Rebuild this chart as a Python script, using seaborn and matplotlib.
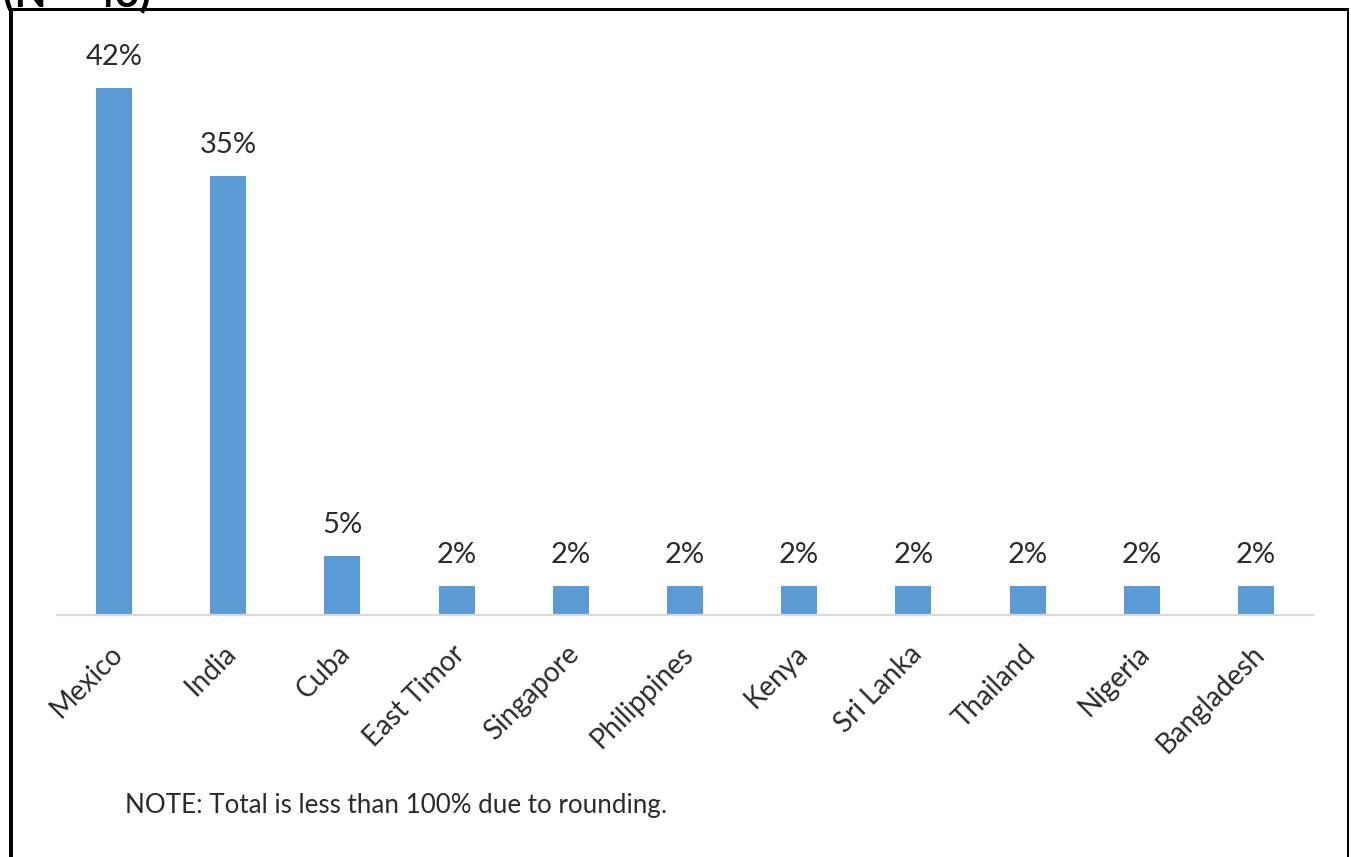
import matplotlib
matplotlib.use("Agg")
import matplotlib.pyplot as plt
import matplotlib.transforms as mtransforms
from matplotlib.patches import Rectangle
import seaborn as sns
import pandas as pd

countries = ["Mexico", "India", "Cuba", "East Timor", "Singapore", "Philippines",
             "Kenya", "Sri Lanka", "Thailand", "Nigeria", "Bangladesh"]
shares = [41.9, 34.9, 4.7, 2.3, 2.3, 2.3, 2.3, 2.3, 2.3, 2.3, 2.3]
value_labels = ["42%", "35%", "5%", "2%", "2%", "2%", "2%", "2%", "2%", "2%", "2%"]
note_text = "NOTE: Total is less than 100% due to rounding."
title_fragment = "(N = 43)"

sns.set_theme(style="white")
plt.rcParams["font.family"] = ["Lato", "DejaVu Sans"]

W, H = 1351, 857
fig = plt.figure(figsize=(W / 100, H / 100), dpi=100)
fig.patch.set_facecolor("white")

def fx(px):
    return px / W

def fy(py):
    return 1 - py / H

ax = fig.add_axes([fx(57), fy(615), fx(1313) - fx(57), fy(30) - fy(615)])
df = pd.DataFrame({"country": countries, "share": shares})
sns.barplot(data=df, x="country", y="share", color="#5b9bd5", width=0.315,
            saturation=1, ax=ax, edgecolor="none")
ax.set_xlim(-0.5, len(countries) - 0.5)
ax.set_ylim(0, 46.54)
ax.set_xlabel("")
ax.set_ylabel("")
ax.set_yticks([])
for s in ["top", "right", "left"]:
    ax.spines[s].set_visible(False)
ax.spines["bottom"].set_color("#d9d9d9")
ax.spines["bottom"].set_linewidth(1.6)
ax.tick_params(axis="x", length=0, pad=25)

text_color = "#2b2b2b"
for cont in ax.containers:
    ax.bar_label(cont, labels=value_labels, padding=13, fontsize=21, color=text_color)

offset = mtransforms.ScaledTranslation(4 / 100, 0, fig.dpi_scale_trans)
for lab in ax.get_xticklabels():
    lab.set_rotation(45)
    lab.set_ha("right")
    lab.set_va("center")
    lab.set_rotation_mode("anchor")
    lab.set_fontsize(20)
    lab.set_color(text_color)
    lab.set_transform(lab.get_transform() + offset)

fig.text(fx(125), fy(805), note_text, fontsize=18.7, color=text_color, va="center", ha="left")

# clipped title fragment at the very top
fig.text(fx(3), fy(6), title_fragment, fontsize=30, fontweight="bold", color="black",
         va="baseline", ha="left")

# frame border
fig.add_artist(Rectangle((fx(9), 0), fx(4), fy(8), transform=fig.transFigure,
                         facecolor="black", edgecolor="none"))
fig.add_artist(Rectangle((fx(9), fy(11)), fx(1349) - fx(9), fy(8) - fy(11),
                         transform=fig.transFigure, facecolor="black", edgecolor="none"))
fig.add_artist(Rectangle((fx(1347), 0), fx(2), fy(9), transform=fig.transFigure,
                         facecolor="black", edgecolor="none"))

fig.savefig("out.png", dpi=100)
